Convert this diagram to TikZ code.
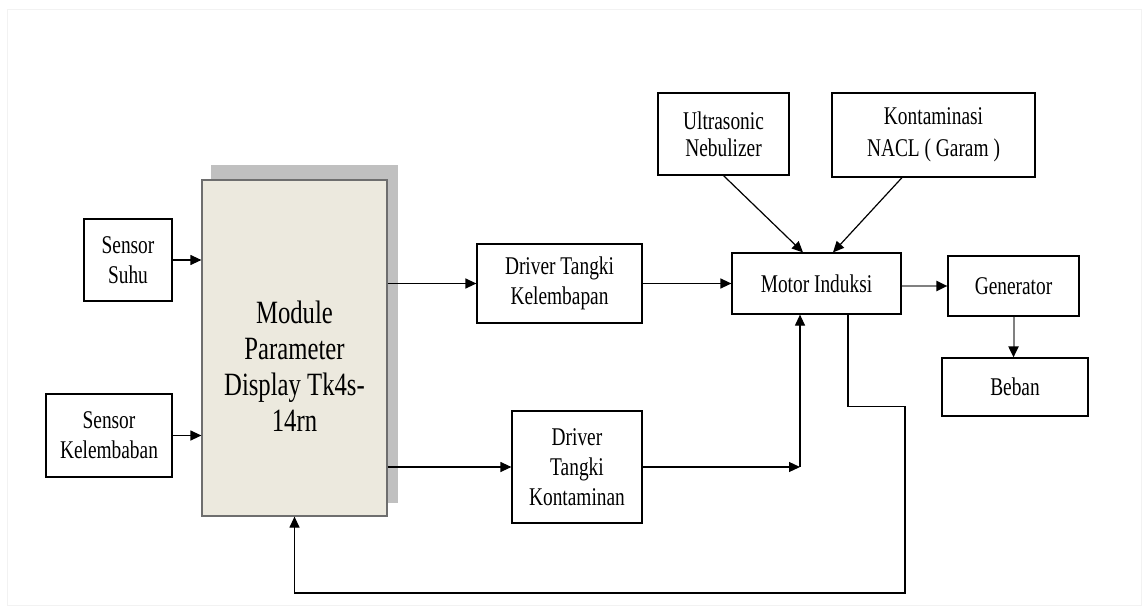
\documentclass[tikz,border=0pt]{standalone}
\usepackage{fontspec}
\setmainfont{Liberation Serif}[FakeStretch=0.76]
\usetikzlibrary{arrows.meta,calc}
\definecolor{modfill}{RGB}{236,233,222}
\definecolor{shadowgray}{RGB}{192,192,192}
\definecolor{modline}{RGB}{110,110,110}
\definecolor{framegray}{RGB}{242,242,242}
\begin{document}
\begin{tikzpicture}[x=1pt,y=-1pt,
  box/.style={draw=black, line width=1.2pt, fill=white, inner sep=0pt, align=center,
    font=\fontsize{25.5pt}{30pt}\selectfont},
  arr/.style={line width=1.2pt, -{Triangle[length=11pt,width=10pt]}},
  grayarr/.style={draw=gray, line width=2pt, -{Triangle[length=11pt,width=10pt,color=black]}},
  plain/.style={line width=1.2pt}]
\useasboundingbox[fill=white] (0,0) rectangle (1147,612);
\draw[framegray, line width=0.8pt] (7,9) rectangle (1141,605);

% main module with shadow
\node[draw=modline, line width=1.2pt, fill=modfill, inner sep=0pt,
  minimum width=185pt, minimum height=336pt] (module) at (294.5,348) {};
\fill[shadowgray] ($(module.south west)+(10,-14)$) rectangle ($(module.north east)+(10,-14)$);
\node[draw=modline, line width=1.2pt, fill=modfill, inner sep=0pt,
  minimum width=185pt, minimum height=336pt] at (module.center) {};
\node[align=center, inner sep=0pt, font=\fontsize{32.5pt}{36pt}\selectfont] (modtext) at (294.5,366)
  {Module\\Parameter\\Display Tk4s-\\14rn};

% boxes
\node[box, minimum width=88pt, minimum height=82pt] (suhu) at (128,260) {Sensor\\Suhu};
\node[box, minimum width=126pt, minimum height=83pt] (kelemb) at (109,435.5) {Sensor\\Kelembaban};
\node[box, minimum width=165pt, minimum height=79pt] (drvkel) at (559.5,283.5) {Driver Tangki\\Kelembapan};
\node[box, minimum width=130pt, minimum height=112pt] (drvkon) at (577,467) {Driver\\Tangki\\Kontaminan};
\node[box, minimum width=131pt, minimum height=82pt, font=\fontsize{25.5pt}{27pt}\selectfont] (ultra) at (723.5,134) {Ultrasonic\\Nebulizer};
\node[box, minimum width=203pt, minimum height=84pt, font=\fontsize{25.5pt}{32pt}\selectfont] (kontam) at (933.5,135) {Kontaminasi\\NACL ( Garam )};
\node[box, minimum width=169pt, minimum height=61pt] (motor) at (816.5,283.5) {Motor Induksi};
\node[box, minimum width=131pt, minimum height=60pt] (gen) at (1013.5,286) {Generator};
\node[box, minimum width=146pt, minimum height=58pt] (beban) at (1015,387) {Beban};

% connectors
\draw[arr] (suhu.east) -- (suhu.east -| module.west);
\draw[arr] (kelemb.east) -- (kelemb.east -| module.west);
\draw[arr] (module.east |- drvkel.west) -- (drvkel.west);
\draw[arr] (module.east |- drvkon.west) -- (drvkon.west);
\draw[arr] (drvkel.east) -- (drvkel.east -| motor.west);
\coordinate (c1) at (800,467);
\draw[arr] (drvkon.east) -- (c1);
\draw[arr] (c1) -- (c1 |- motor.south);
\draw[arr] (ultra.south) -- ($(motor.north)+(-13.5,0)$);
\draw[arr] ($(kontam.south)+(-31.5,0)$) -- ($(motor.north)+(16.5,0)$);
\draw[grayarr] (motor.east |- gen.west) -- (gen.west);
\draw[grayarr] (gen.south) -- (gen.south |- beban.north);
\coordinate (fb) at (905,593);
\draw[arr] ($(motor.south)+(31.5,0)$) -- ++(0,92) -| (fb) -| (module.south);
\end{tikzpicture}
\end{document}
